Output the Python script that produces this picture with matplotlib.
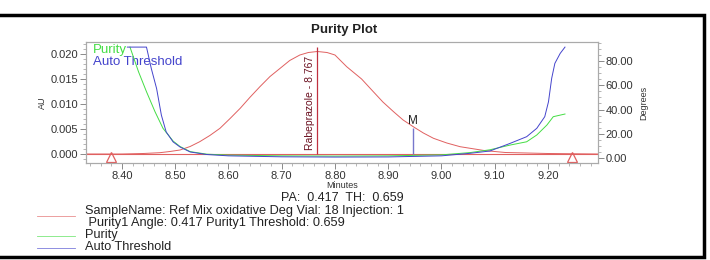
import matplotlib
matplotlib.use("Agg")
import matplotlib.pyplot as plt
from matplotlib.lines import Line2D
from matplotlib.patches import Rectangle
from matplotlib.ticker import MultipleLocator, FormatStrFormatter

plt.rcParams['font.family'] = ['Liberation Sans', 'DejaVu Sans']

# chromatogram (AU)
time_au = [8.334, 8.40, 8.44, 8.471, 8.490, 8.509, 8.528, 8.546, 8.565, 8.584, 8.603,
           8.622, 8.640, 8.659, 8.678, 8.697, 8.715, 8.734, 8.750, 8.767, 8.785,
           8.800, 8.822, 8.850, 8.872, 8.890, 8.910, 8.928, 8.947, 8.966, 8.985,
           9.010, 9.035, 9.08, 9.12, 9.20, 9.294]
au = [0.0, 0.0, 0.0001, 0.00026, 0.0005, 0.0008, 0.0015, 0.00246, 0.0037, 0.00514,
      0.0071, 0.00914, 0.0113, 0.01346, 0.0155, 0.01714, 0.0187, 0.0198, 0.0203,
      0.0205, 0.0203, 0.0198, 0.01746, 0.0150, 0.01246, 0.0104, 0.00846, 0.0068,
      0.00546, 0.0042, 0.00314, 0.0022, 0.00146, 0.0007, 0.0003, 0.0001, 0.0]

# purity angle (degrees)
time_pur = [8.415, 8.431, 8.446, 8.462, 8.477, 8.496, 8.509, 8.528, 8.559, 8.60, 8.70,
            8.80, 8.90, 9.00, 9.054, 9.091, 9.129, 9.160, 9.179, 9.198, 9.210, 9.232]
purity = [91.5, 71.2, 54.7, 38.2, 24.5, 14.0, 9.5, 5.3, 3.2, 2.4, 1.8, 1.6, 1.8, 2.6,
          4.5, 6.8, 10.7, 13.4, 19.0, 27.2, 34.1, 36.3]

# auto threshold (degrees)
time_thr = [8.41, 8.446, 8.455, 8.465, 8.474, 8.483, 8.496, 8.509, 8.528, 8.559, 8.60,
            8.70, 8.80, 8.90, 9.00, 9.054, 9.091, 9.129, 9.160, 9.179, 9.194, 9.201,
            9.207, 9.213, 9.223, 9.232]
threshold = [91.5, 91.5, 73.9, 57.3, 35.3, 21.5, 13.3, 9.1, 5.0, 2.9, 1.8, 1.0, 0.8,
             0.9, 1.8, 3.9, 5.8, 12.1, 17.6, 24.5, 34.1, 46.4, 65.7, 78.1, 86.3, 91.5]

peak_rt = 8.767
peak_name = "Rabeprazole - 8.767"
m_time = 8.947
m_height = 0.0052
start_end = [8.380, 9.245]
pa, th = 0.417, 0.659

red = "#e06060"
green = "#44dd44"
blue = "#4444cc"
grey = "#333333"

fig = plt.figure(figsize=(7.1, 2.6), dpi=100)
ax = fig.add_axes([86/710, 1 - 163/260, 512/710, 121/260])
ax2 = ax.twinx()

ax.axhline(0, color=red, lw=0.8)
ax.plot(time_au, au, color=red, lw=0.7)
ax.vlines(peak_rt, 0, 0.0215, color="#c03040", lw=0.9)
ax.text(peak_rt - 0.013, 0.0102, peak_name, rotation=90, ha="center", va="center",
        color="#6b1020", fontsize=7.5)
ax.vlines(m_time, 0, m_height, color="#7777cc", lw=1.0)
ax.text(m_time, m_height + 0.0003, "M", ha="center", va="bottom", color="#222222",
        fontsize=8.5)
ax.plot(start_end, [-0.00055, -0.00055], ls="none", marker="^", ms=7,
        mfc="none", mec=red, mew=0.9)

ax2.plot(time_pur, purity, color=green, lw=0.7)
ax2.plot(time_thr, threshold, color=blue, lw=0.7)

ax.set_xlim(8.3324, 9.294)
ax.set_ylim(-0.0018, 0.0224)
ax2.set_ylim(-4.1, 95.7)

ax.xaxis.set_major_locator(MultipleLocator(0.1))
ax.xaxis.set_minor_locator(MultipleLocator(0.02))
ax.xaxis.set_major_formatter(FormatStrFormatter("%.2f"))
ax.yaxis.set_major_locator(MultipleLocator(0.005))
ax.yaxis.set_minor_locator(MultipleLocator(0.001))
ax.yaxis.set_major_formatter(FormatStrFormatter("%.3f"))
ax2.yaxis.set_major_locator(MultipleLocator(20))
ax2.yaxis.set_minor_locator(MultipleLocator(5))
ax2.yaxis.set_major_formatter(FormatStrFormatter("%.2f"))

for a in (ax, ax2):
    for s in a.spines.values():
        s.set_color("#aaaaaa")
        s.set_linewidth(0.8)
    a.tick_params(which="major", length=4, width=0.6, color="#777777",
                  labelsize=8, labelcolor=grey, pad=1.5)
    a.tick_params(which="minor", length=2, width=0.5, color="#999999")

ax.set_ylabel("AU", fontsize=6.5, color=grey, labelpad=3)
ax2.set_ylabel("Degrees", fontsize=6.5, color=grey, labelpad=4)

ax.text(0.013, 0.935, "Purity", transform=ax.transAxes, color=green, fontsize=9.5,
        va="center")
ax.text(0.013, 0.835, "Auto Threshold", transform=ax.transAxes, color=blue,
        fontsize=9.5, va="center")

fig.text(344/710, 1 - 30/260, "Purity Plot", ha="center", va="center",
         fontsize=9.5, fontweight="bold", color="#222222")
fig.text(342/710, 1 - 186/260, "Minutes", ha="center", va="center", fontsize=6.5,
         color=grey)
fig.text(342/710, 1 - 198/260, f"PA:  {pa:.3f}  TH:  {th:.3f}", ha="center",
         va="center", fontsize=9, color="#222222")

legend_rows = [
    ("SampleName: Ref Mix oxidative Deg Vial: 18 Injection: 1", red, 211),
    (" Purity1 Angle: 0.417 Purity1 Threshold: 0.659", None, 223),
    ("Purity", green, 235),
    ("Auto Threshold", blue, 247),
]
for label, col, ypix in legend_rows:
    fig.text(85/710, 1 - ypix/260, label, ha="left", va="center", fontsize=9.2,
             color="#222222")
    if col is not None:
        yl = ypix + 5 if col == red else ypix + 1
        fig.add_artist(Line2D([37/710, 75/710], [1 - yl/260, 1 - yl/260],
                              color=col, lw=0.6, alpha=0.7))

fig.add_artist(Rectangle((-0.02, 1 - 257/260), 704/710 + 0.02, (257 - 15)/260,
                         fill=False, ec="black", lw=2.5))

fig.savefig("out.png", dpi=100)
